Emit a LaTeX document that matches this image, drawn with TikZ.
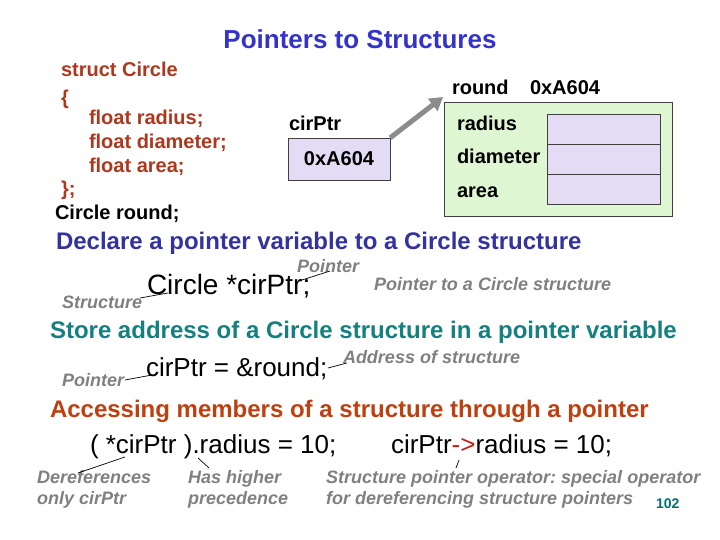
\documentclass[tikz,border=0pt]{standalone}
\usepackage{fontspec}
\setmainfont{Liberation Sans}
\usetikzlibrary{arrows.meta}
\definecolor{titleblue}{RGB}{51,51,204}
\definecolor{codered}{RGB}{172,56,30}
\definecolor{declblue}{RGB}{51,51,160}
\definecolor{storeteal}{RGB}{20,128,128}
\definecolor{accorange}{RGB}{190,64,16}
\definecolor{labgrey}{RGB}{128,128,128}
\definecolor{arrgrey}{RGB}{140,140,140}
\definecolor{lav}{RGB}{228,220,245}
\definecolor{lgreen}{RGB}{222,247,210}
\definecolor{pagenum}{RGB}{0,112,112}
\definecolor{oprred}{RGB}{200,30,20}
\newcommand{\fsz}[1]{\fontsize{#1}{#1}\selectfont}
\frenchspacing
\tikzset{
  txt/.style={anchor=base west, inner sep=0pt, outer sep=0pt},
  code/.style={txt, text=codered, font=\fsz{20}\bfseries},
  bold20/.style={txt, font=\fsz{20}\bfseries},
  head/.style={txt, font=\fsz{24}\bfseries},
  stmt/.style={txt, font=\fsz{26}},
  glabel/.style={txt, text=labgrey, font=\fsz{18}\bfseries\itshape},
  glabel2/.style={anchor=north west, inner sep=0pt, text=labgrey, font=\fontsize{18}{21.5}\selectfont\bfseries\itshape, align=left},
  leader/.style={draw=black, line width=0.7pt},
  cell/.style={draw=black!75, fill=lav, minimum width=113pt, minimum height=30pt, inner sep=0pt},
}
\begin{document}
\begin{tikzpicture}[x=1pt,y=-1pt]
\useasboundingbox (0,0) rectangle (720,540);
% title
\node[anchor=base, inner sep=0pt, text=titleblue, font=\fsz{26}\bfseries] (title) at (360,49) {Pointers to Structures};
% struct code
\node[code] (s1) at (61,77) {struct Circle};
\node[code] (s2) at (61,105) {\{};
\node[code] (s3) at (89,125) {float radius;};
\node[code] (s4) at (89,149) {float diameter;};
\node[code] (s5) at (89,173) {float area;};
\node[code] (s6) at (61,196) {\};};
\node[bold20] (s7) at (55,220) {Circle round;};
% pointer box
\node[bold20] (ptrlab) at (289,131) {cirPtr};
\node[draw=black!75, fill=lav, minimum width=102pt, minimum height=42pt, inner sep=0pt, font=\fsz{20}\bfseries] (ptrbox) at (339,159) {0xA604};
% struct box
\node[bold20] (rndlab) at (452,95) {round};
\node[bold20] (rndaddr) at (530,95) {0xA604};
\node[draw=black!75, fill=lgreen, minimum width=228pt, minimum height=114pt, inner sep=0pt] (rnd) at (558,159) {};
\node[cell] (c1) at (603.5,129) {};
\node[cell] (c2) at (603.5,159) {};
\node[cell] (c3) at (603.5,189) {};
\node[bold20] (f1) at (457,131) {radius};
\node[bold20] (f2) at (457,164) {diameter};
\node[bold20] (f3) at (457,198) {area};
\coordinate (tip) at (443,97);
\draw[arrgrey, line width=5pt, -{Triangle[length=13pt,width=15pt]}] (ptrbox.north east) -- (tip);
% declare
\node[head, text=declblue] (decl) at (56,249.5) {Declare a pointer variable to a Circle structure};
\node[stmt, font=\fsz{28}] (declstmt) at (147,294) {Circle *cirPtr;};
\node[glabel] (lpointer1) at (297,272.5) {Pointer};
\node[glabel] (lstruct) at (62,308.5) {Structure};
\node[glabel] (lptrto) at (374,290.5) {Pointer to a Circle structure};
\coordinate (a1) at (302,280); \coordinate (a2) at (330,271);
\draw[leader] (a1) -- (a2);
\coordinate (b1) at (140,298); \coordinate (b2) at (168,293);
\draw[leader] (b1) -- (b2);
% store
\node[head, text=storeteal] (store) at (50,338.5) {Store address of a Circle structure in a pointer variable};
\node[stmt] (storestmt) at (146,376) {cirPtr = \&round;};
\node[glabel] (lpointer2) at (62,386.5) {Pointer};
\node[glabel] (laddr) at (343,363.5) {Address of structure};
\coordinate (d1) at (125,380); \coordinate (d2) at (152,375);
\draw[leader] (d1) -- (d2);
\coordinate (e1) at (328,368); \coordinate (e2) at (347,363);
\draw[leader] (e1) -- (e2);
% accessing
\node[head, text=accorange] (acc) at (50,417.5) {Accessing members of a structure through a pointer};
\node[stmt] (accstmt1) at (90,453) {( *cirPtr ).radius = 10;};
\node[stmt] (accstmt2) at (391,453) {cirPtr{\color{oprred}->}radius = 10;};
\node[glabel2] (lderef) at (37,470) {Dereferences\\only cirPtr};
\node[glabel2] (lprec) at (188,470) {Has higher\\precedence};
\node[glabel2] (lspo) at (326,470) {Structure pointer operator: special operator\\for dereferencing structure pointers};
\coordinate (g1) at (125,457); \coordinate (g2) at (78,473);
\draw[leader] (g1) -- (g2);
\coordinate (h1) at (198,458); \coordinate (h2) at (209,468);
\draw[leader] (h1) -- (h2);
\coordinate (k1) at (459,460); \coordinate (k2) at (456,468);
\draw[leader] (k1) -- (k2);
\node[txt, text=pagenum, font=\fsz{14}\bfseries] (pg) at (656,508) {102};
\end{tikzpicture}
\end{document}
